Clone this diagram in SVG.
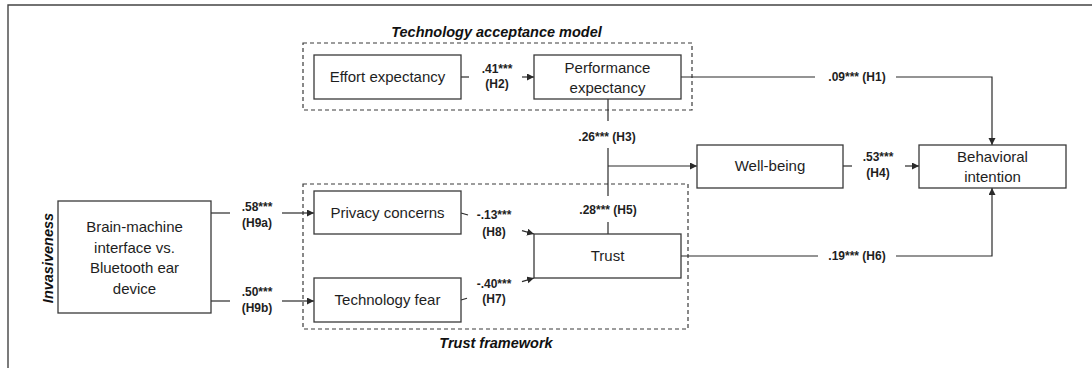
<svg xmlns="http://www.w3.org/2000/svg" width="1092" height="368" viewBox="0 0 1092 368">
<defs>
<style>
.box{fill:#fff;stroke:#3a3a3a;stroke-width:1.3}
.grp{fill:none;stroke:#3a3a3a;stroke-width:1.2;stroke-dasharray:4 3}
.ln{fill:none;stroke:#2a2a2a;stroke-width:1.2}
.t{font-family:"Liberation Sans",Arial,sans-serif;font-size:15px;fill:#1e1e1e;text-anchor:middle}
.lb{font-family:"Liberation Sans",Arial,sans-serif;font-size:12px;font-weight:bold;fill:#1e1e1e;text-anchor:middle}
.ttl{font-family:"Liberation Sans",Arial,sans-serif;font-size:14.5px;font-weight:bold;font-style:italic;fill:#111;text-anchor:middle}
</style>
<marker id="ah" markerUnits="userSpaceOnUse" markerWidth="8" markerHeight="8" refX="7" refY="3.5" orient="auto">
<path d="M0,0 L7,3.5 L0,7 z" fill="#2a2a2a"/>
</marker>
</defs>
<rect width="1092" height="368" fill="#fff"/>
<polyline points="8,368 8,5 1092,5" fill="none" stroke="#444" stroke-width="1.4"/>

<g id="group-tam">
<rect class="grp" x="303" y="43" width="389" height="67"/>
<text class="ttl" x="496.5" y="37">Technology acceptance model</text>
</g>
<g id="group-trust">
<rect class="grp" x="303" y="184" width="385" height="145"/>
<text class="ttl" x="496" y="348">Trust framework</text>
</g>

<g id="connectors">
<!-- H2 -->
<line class="ln" x1="461" y1="77" x2="469" y2="77"/>
<line class="ln" x1="522" y1="77" x2="534" y2="77" marker-end="url(#ah)"/>
<!-- H1 -->
<line class="ln" x1="681" y1="77" x2="815" y2="77"/>
<polyline class="ln" points="896,77 992,77 992,145" marker-end="url(#ah)"/>
<!-- H3 / H5 -->
<line class="ln" x1="608" y1="99" x2="608" y2="121"/>
<line class="ln" x1="608" y1="148" x2="608" y2="196"/>
<line class="ln" x1="608" y1="166" x2="697" y2="166" marker-end="url(#ah)"/>
<line class="ln" x1="608" y1="222" x2="608" y2="234"/>
<!-- H4 -->
<line class="ln" x1="843" y1="166" x2="852" y2="166"/>
<line class="ln" x1="905" y1="166" x2="919" y2="166" marker-end="url(#ah)"/>
<!-- H6 -->
<line class="ln" x1="681" y1="256" x2="818" y2="256"/>
<polyline class="ln" points="896,256 992,256 992,188" marker-end="url(#ah)"/>
<!-- H8 -->
<line class="ln" x1="461" y1="213" x2="468" y2="215"/>
<line class="ln" x1="522" y1="230.6" x2="534" y2="234" marker-end="url(#ah)"/>
<!-- H7 -->
<line class="ln" x1="461" y1="300" x2="467" y2="298.2"/>
<line class="ln" x1="522" y1="281.6" x2="534" y2="278" marker-end="url(#ah)"/>
<!-- H9a -->
<line class="ln" x1="211" y1="213" x2="230" y2="213"/>
<line class="ln" x1="282" y1="213" x2="314" y2="213" marker-end="url(#ah)"/>
<!-- H9b -->
<line class="ln" x1="211" y1="301" x2="230" y2="301"/>
<line class="ln" x1="282" y1="301" x2="314" y2="301" marker-end="url(#ah)"/>

<text class="lb" x="497" y="73">.41***</text>
<text class="lb" x="497" y="88">(H2)</text>
<text class="lb" x="857" y="81">.09*** (H1)</text>
<text class="lb" x="607" y="141">.26*** (H3)</text>
<text class="lb" x="608" y="214">.28*** (H5)</text>
<text class="lb" x="878" y="161">.53***</text>
<text class="lb" x="878" y="177">(H4)</text>
<text class="lb" x="857" y="260">.19*** (H6)</text>
<text class="lb" x="494" y="219">-.13***</text>
<text class="lb" x="494" y="236">(H8)</text>
<text class="lb" x="494" y="288">-.40***</text>
<text class="lb" x="494" y="303">(H7)</text>
<text class="lb" x="257" y="211">.58***</text>
<text class="lb" x="257" y="227">(H9a)</text>
<text class="lb" x="257" y="296">.50***</text>
<text class="lb" x="257" y="312">(H9b)</text>
</g>

<g id="node-effort">
<rect class="box" x="314" y="55" width="147" height="44"/>
<text class="t" x="387.5" y="82">Effort expectancy</text>
</g>
<g id="node-performance">
<rect class="box" x="534" y="55" width="147" height="44"/>
<text class="t" x="607.5" y="73">Performance</text>
<text class="t" x="607.5" y="93">expectancy</text>
</g>
<g id="node-wellbeing">
<rect class="box" x="697" y="145" width="146" height="43"/>
<text class="t" x="770" y="171">Well-being</text>
</g>
<g id="node-intention">
<rect class="box" x="919" y="145" width="147" height="43"/>
<text class="t" x="992.5" y="162">Behavioral</text>
<text class="t" x="992.5" y="182">intention</text>
</g>
<g id="node-privacy">
<rect class="box" x="314" y="191" width="147" height="43"/>
<text class="t" x="387.5" y="218">Privacy concerns</text>
</g>
<g id="node-fear">
<rect class="box" x="314" y="278" width="147" height="44"/>
<text class="t" x="387.5" y="305">Technology fear</text>
</g>
<g id="node-trust">
<rect class="box" x="534" y="234" width="147" height="44"/>
<text class="t" x="607.5" y="261">Trust</text>
</g>
<g id="node-invasiveness">
<rect class="box" x="58" y="201" width="153" height="112"/>
<text class="t" x="134.5" y="232">Brain-machine</text>
<text class="t" x="134.5" y="253">interface vs.</text>
<text class="t" x="134.5" y="273">Bluetooth ear</text>
<text class="t" x="134.5" y="294">device</text>
<text class="ttl" transform="translate(52.5,258) rotate(-90)" x="0" y="0">Invasiveness</text>
</g>
</svg>
